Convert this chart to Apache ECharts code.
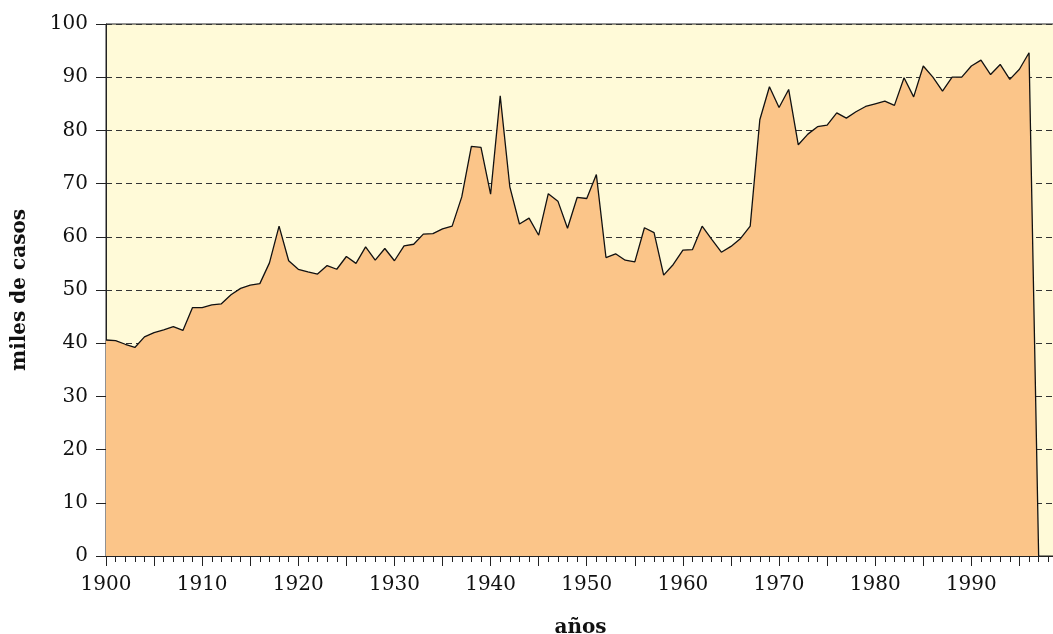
<!DOCTYPE html>
<html>
<head>
<meta charset="utf-8">
<title>miles de casos por año</title>
<script src="https://cdn.jsdelivr.net/npm/echarts@6/dist/echarts.min.js"></script>
<style>
  html, body { margin: 0; padding: 0; background: #ffffff; }
  #chart { width: 1053px; height: 634px; }
</style>
</head>
<body>
<div id="chart"></div>
<script>
// Años de la serie (1900–1997)
const years = [];
for (let y = 1900; y <= 1997; y++) years.push(y);

// Miles de casos por año
const casos = [
  40.6, 40.5, 39.8, 39.2, 41.2, 42.0, 42.5, 43.1, 42.4, 46.7,   // 1900–1909
  46.7, 47.2, 47.4, 49.1, 50.3, 50.9, 51.2, 55.1, 62.0, 55.5,   // 1910–1919
  53.9, 53.4, 53.0, 54.6, 53.9, 56.3, 55.0, 58.1, 55.6, 57.8,   // 1920–1929
  55.5, 58.3, 58.6, 60.5, 60.6, 61.5, 62.0, 67.5, 77.0, 76.8,   // 1930–1939
  68.0, 86.5, 69.4, 62.4, 63.5, 60.3, 68.1, 66.7, 61.6, 67.4,   // 1940–1949
  67.2, 71.7, 56.1, 56.8, 55.6, 55.3, 61.7, 60.8, 52.8, 54.8,   // 1950–1959
  57.5, 57.6, 62.0, 59.5, 57.1, 58.2, 59.7, 62.0, 82.0, 88.2,   // 1960–1969
  84.3, 87.7, 77.3, 79.3, 80.7, 81.0, 83.3, 82.3, 83.5, 84.5,   // 1970–1979
  85.0, 85.5, 84.7, 89.9, 86.3, 92.1, 90.0, 87.4, 90.0, 90.0,   // 1980–1989
  92.1, 93.2, 90.5, 92.4, 89.6, 91.5, 94.6, 0                   // 1990–1997
];

// Marcas del eje vertical
const yTicks = [0, 10, 20, 30, 40, 50, 60, 70, 80, 90, 100];

const serif = 'DejaVu Serif';
const axisColor = '#222222';

const chart = echarts.init(document.getElementById('chart'), null, { renderer: 'canvas' });

chart.setOption({
  animation: false,
  backgroundColor: '#ffffff',
  grid: {
    left: 106,
    top: 24,
    right: -2,          // the plot runs off the right edge of the page
    bottom: 78,
    outerBoundsMode: 'none',
    containLabel: false,
    show: true,
    backgroundColor: '#FFFAD8',
    borderColor: axisColor,
    borderWidth: 1
  },
  xAxis: {
    type: 'value',
    min: 1900,
    max: 1998.7,
    interval: 5,
    name: 'años',
    nameLocation: 'middle',
    nameGap: 62,
    nameTextStyle: { fontFamily: serif, fontSize: 20, fontWeight: 'bold', color: '#111' },
    axisLine: { show: true, lineStyle: { color: axisColor, width: 1 } },
    axisTick: { show: true, length: 10, lineStyle: { color: axisColor, width: 1 } },
    minorTick: { show: true, splitNumber: 5, length: 6, lineStyle: { color: axisColor, width: 1 } },
    splitLine: { show: false },
    minorSplitLine: { show: false },
    axisLabel: {
      margin: 19,
      fontFamily: serif,
      fontSize: 20,
      color: '#111',
      showMaxLabel: false,
      formatter: v => (v % 10 === 0 ? String(v) : '')
    }
  },
  yAxis: {
    type: 'value',
    min: yTicks[0],
    max: yTicks[yTicks.length - 1],
    interval: 10,
    name: 'miles de casos',
    nameLocation: 'middle',
    nameGap: 76,
    nameTextStyle: { fontFamily: serif, fontSize: 20, fontWeight: 'bold', color: '#111' },
    axisLine: { show: true, lineStyle: { color: axisColor, width: 1 } },
    axisTick: { show: true, length: 10, lineStyle: { color: axisColor, width: 1 } },
    splitLine: {
      show: true,
      lineStyle: { color: '#333333', width: 1, type: [6, 4] }
    },
    axisLabel: {
      margin: 18,
      fontFamily: serif,
      fontSize: 20,
      color: '#111'
    }
  },
  series: [{
    type: 'line',
    data: years.map((y, i) => [y, casos[i]]),
    symbol: 'none',
    lineStyle: { color: '#111111', width: 1.3 },
    areaStyle: { color: '#FBC589', opacity: 1 },
    z: 1
  }]
});
</script>
</body>
</html>
